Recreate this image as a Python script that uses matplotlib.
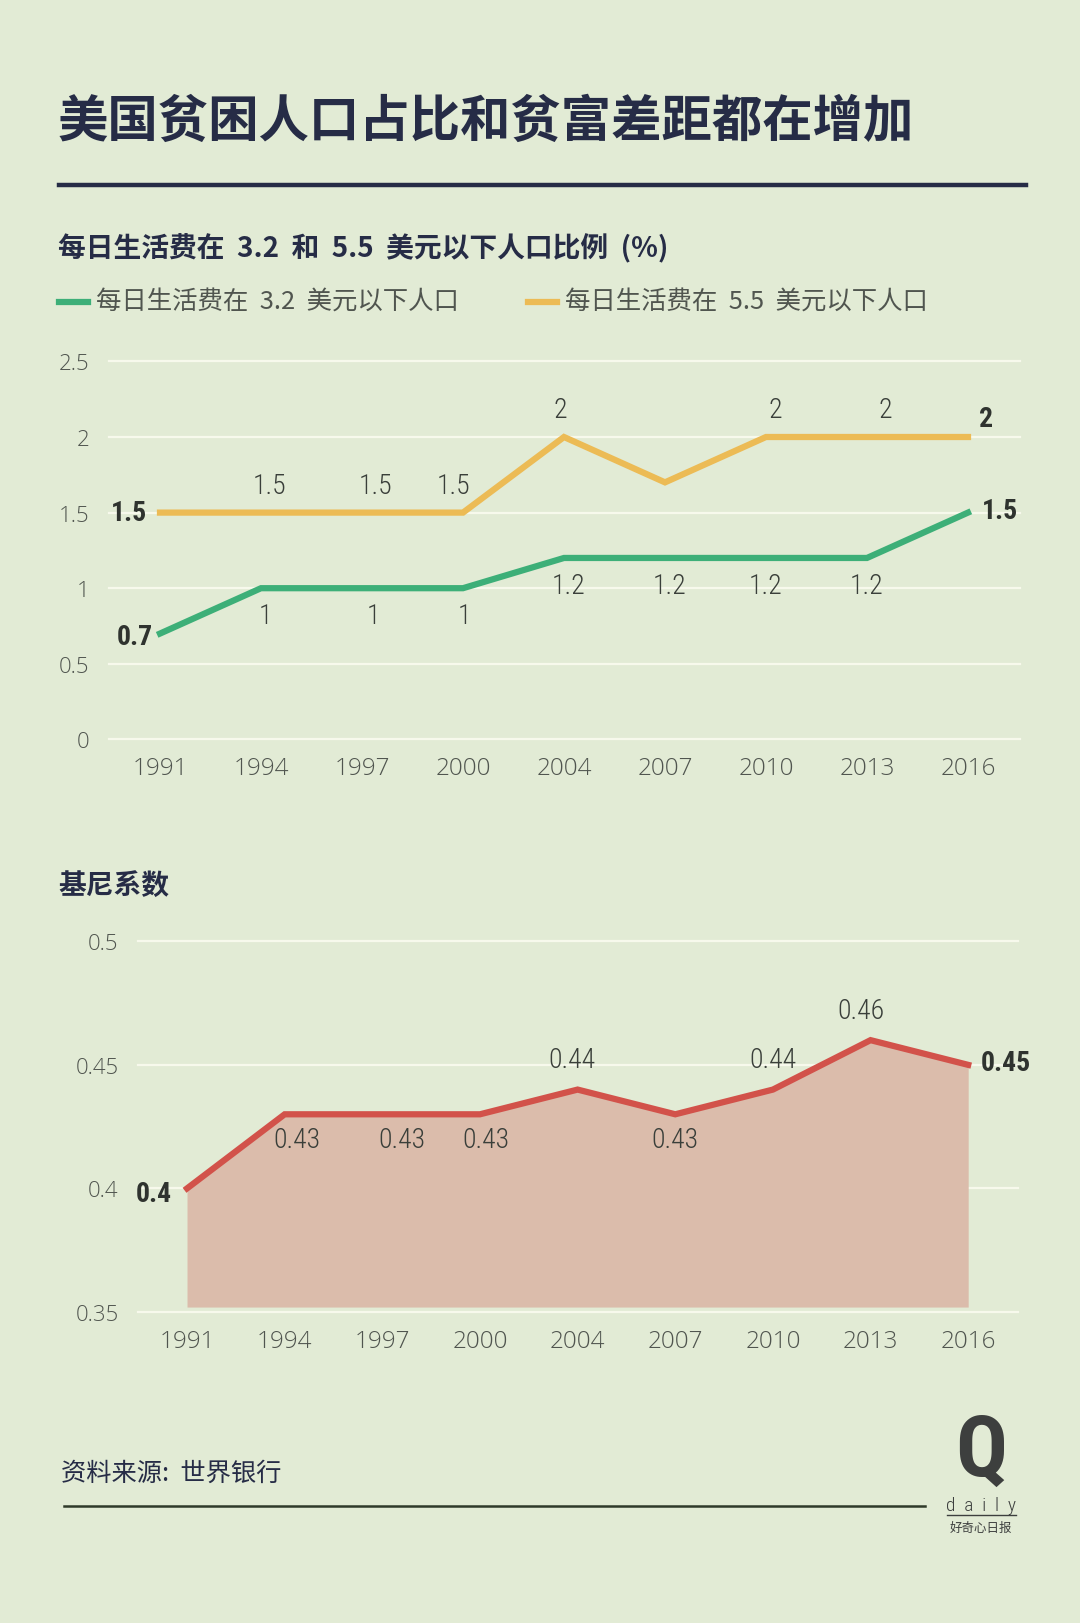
import numpy as np
import matplotlib.pyplot as plt

plt.rcParams['font.family'] = ['Noto Sans CJK SC', 'DejaVu Sans']

# data
years = ['1991', '1994', '1997', '2000', '2004', '2007', '2010', '2013', '2016']
below_32 = [0.7, 1, 1, 1, 1.2, 1.2, 1.2, 1.2, 1.5]
below_55 = [1.5, 1.5, 1.5, 1.5, 2, 1.7, 2, 2, 2]
gini = [0.4, 0.43, 0.43, 0.43, 0.44, 0.43, 0.44, 0.46, 0.45]

label_32 = ['0.7', '1', '1', '1', '1.2', '1.2', '1.2', '1.2', '1.5']
label_55 = ['1.5', '1.5', '1.5', '1.5', '2', '', '2', '2', '2']
label_gini = ['0.4', '0.43', '0.43', '0.43', '0.44', '0.43', '0.44', '0.46', '0.45']
gini_above = [False, False, False, False, True, False, True, True, False]

# small horizontal nudges of the value labels (points), as in the original layout
nudge_55 = [0, 6, 10, -7, -3, 0, 7, 13, 0]
nudge_32 = [0, 3, 8, 1, 3, 3, 0, 0, 0]
nudge_gini = [0, 9, 14, 4, -4, 0, 0, -7, 0]

BG = '#e2ebd5'
NAVY = '#262c46'
GREEN = '#3daf78'
ORANGE = '#ecbb55'
RED = '#d2524a'
FILL = '#dbbcab'
GRID = '#f7f9ec'
TICK = '#50554f'
LBL = '#3a3f3a'
BOLDLBL = '#2f332f'
NUMFONT = ['Roboto Condensed', 'Liberation Sans Narrow', 'DejaVu Sans']
TICKFONT = ['Open Sans', 'DejaVu Sans']

W, H = 1080, 1624
fig = plt.figure(figsize=(W / 100, H / 100), dpi=100, facecolor=BG)


def fx(px):
    return px / W


def fy(py):
    return 1 - py / H


def num(ax, txt, xy, off, bold=False, ha='center'):
    ax.annotate(txt, xy, xytext=off, textcoords='offset points', ha=ha, va='center',
                fontsize=20, fontweight='bold' if bold else 'light',
                color=BOLDLBL if bold else LBL,
                family=NUMFONT, fontstretch='condensed', zorder=5)


# header
fig.text(fx(58), fy(122), '美国贫困人口占比和贫富差距都在增加', fontsize=36.3,
         fontweight='bold', color=NAVY, va='center', ha='left')
fig.add_artist(plt.Line2D([fx(59), fx(1026)], [fy(186), fy(186)], color=NAVY, lw=3.2))
fig.text(fx(58), fy(249), '每日生活费在  3.2  和  5.5  美元以下人口比例  (%)', fontsize=20,
         fontweight='bold', color=NAVY, va='center', ha='left')

# legend
for x0, col, txt in [(59, GREEN, '每日生活费在  3.2  美元以下人口'),
                     (528, ORANGE, '每日生活费在  5.5  美元以下人口')]:
    fig.add_artist(plt.Line2D([fx(x0), fx(x0 + 29)], [fy(303), fy(303)], color=col, lw=4.5))
    fig.text(fx(x0 + 37), fy(303), txt, fontsize=18.3, color='#50554f', va='center', ha='left')

# top chart
ax1 = fig.add_axes([fx(109), fy(740.4), fx(1020 - 109), (740.4 - 362.4) / H])
ax1.set_facecolor('none')
x = np.arange(len(years))
ax1.set_xlim(-0.505, 8.515)
ax1.set_ylim(0, 2.5)
for v in [0, 0.5, 1, 1.5, 2, 2.5]:
    ax1.axhline(v, color=GRID, lw=1.6, clip_on=False, zorder=0)
ax1.plot(x, below_55, color=ORANGE, lw=4.5, solid_joinstyle='miter', zorder=3)
ax1.plot(x, below_32, color=GREEN, lw=4.5, solid_joinstyle='miter', zorder=3)

last = len(years) - 1
for i in range(len(years)):
    if i == 0:
        num(ax1, label_55[i], (x[i], below_55[i]), (-9, 0), True, 'right')
        num(ax1, label_32[i], (x[i], below_32[i]), (-5, -2), True, 'right')
    elif i == last:
        num(ax1, label_55[i], (x[i], below_55[i]), (13, 13), True)
        num(ax1, label_32[i], (x[i], below_32[i]), (10, 1.5), True, 'left')
    else:
        if label_55[i]:
            num(ax1, label_55[i], (x[i], below_55[i]), (nudge_55[i], 19.5))
        num(ax1, label_32[i], (x[i], below_32[i]), (nudge_32[i], -20))

ax1.set_xticks(x)
ax1.set_xticklabels(years)
ax1.set_yticks([0, 0.5, 1, 1.5, 2, 2.5])
ax1.set_yticklabels(['0', '0.5', '1', '1.5', '2', '2.5'])

# bottom chart
fig.text(fx(58), fy(886), '基尼系数', fontsize=20, fontweight='bold', color=NAVY,
         va='center', ha='left')
ax2 = fig.add_axes([fx(138), fy(1313), fx(1018 - 138), (1313 - 942.3) / H])
ax2.set_facecolor('none')
ax2.set_xlim(-0.502, 8.51)
ax2.set_ylim(0.35, 0.5)
for v in [0.35, 0.4, 0.45, 0.5]:
    ax2.axhline(v, color=GRID, lw=1.6, clip_on=False, zorder=0)
ax2.fill_between(x, 0.352, gini, color=FILL, lw=0, zorder=1)
ax2.plot(x, gini, color=RED, lw=4.5, solid_joinstyle='miter', zorder=3)

for i in range(len(years)):
    if i == 0:
        num(ax2, label_gini[i], (x[i], gini[i]), (-11, -4), True, 'right')
    elif i == last:
        num(ax2, label_gini[i], (x[i], gini[i]), (9, 2), True, 'left')
    elif gini_above[i]:
        num(ax2, label_gini[i], (x[i], gini[i]), (nudge_gini[i], 21.5))
    else:
        num(ax2, label_gini[i], (x[i], gini[i]), (nudge_gini[i], -18))

ax2.set_xticks(x)
ax2.set_xticklabels(years)
ax2.set_yticks([0.35, 0.4, 0.45, 0.5])
ax2.set_yticklabels(['0.35', '0.4', '0.45', '0.5'])

for ax in (ax1, ax2):
    for s in ax.spines.values():
        s.set_visible(False)
    ax.tick_params(length=0)
    ax.tick_params(axis='y', pad=14, labelsize=16)
    ax.tick_params(axis='x', pad=12, labelsize=17.5)
    for t in ax.get_xticklabels() + ax.get_yticklabels():
        t.set_family(TICKFONT)
        t.set_fontweight('light')
        t.set_color(TICK)

# footer
fig.text(fx(61), fy(1474), '资料来源:  世界银行', fontsize=18.2, color=NAVY, va='center', ha='left')
fig.add_artist(plt.Line2D([fx(64), fx(925)], [fy(1507), fy(1507)], color='#2f3a2a', lw=1.8))
fig.text(fx(981), fy(1452), 'Q', fontsize=62, color='#3d3f3e', va='center', ha='center',
         family=NUMFONT, fontstretch='condensed', fontweight='bold')
fig.text(fx(981), fy(1506), 'd  a  i  l  y', fontsize=14, color='#3d3f3e', va='center', ha='center',
         family=NUMFONT, fontstretch='condensed', fontweight='light')
fig.add_artist(plt.Line2D([fx(947), fx(1016)], [fy(1516), fy(1516)], color='#3d3f3e', lw=1))
fig.text(fx(981), fy(1528), '好奇心日报', fontsize=9, color='#3d3f3e', va='center', ha='center')

fig.savefig('out.png', dpi=100, facecolor=BG)
